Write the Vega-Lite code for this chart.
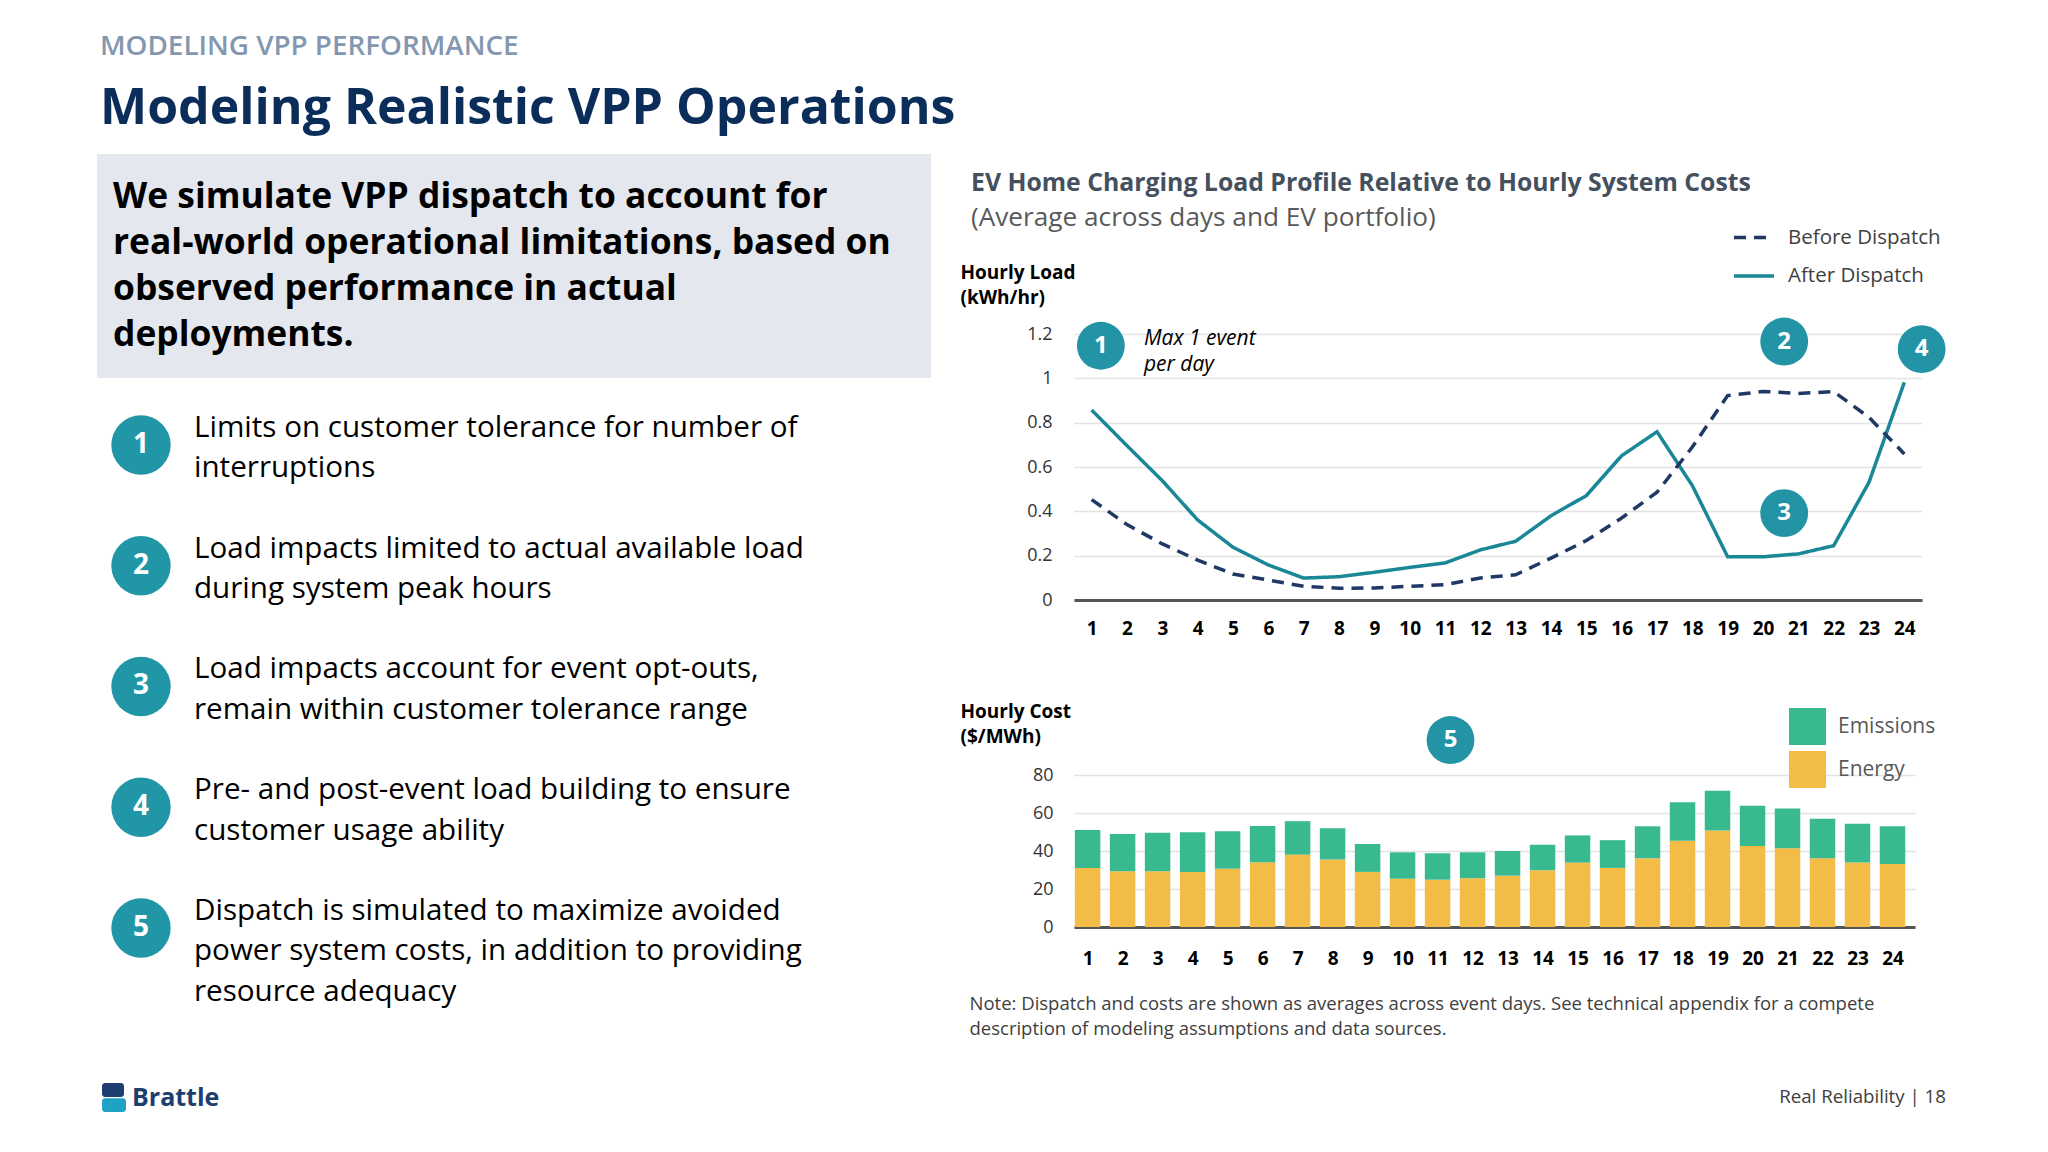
{
  "$schema": "https://vega.github.io/schema/vega-lite/v6.json",
  "background": "white",
  "padding": {"left": 97, "top": 33, "right": 0, "bottom": 0},
  "config": {
    "font": "Open Sans",
    "view": {"stroke": null},
    "legend": {"padding": 0},
    "axis": {"labelOverlap": false}
  },
  "title": {
    "text": "MODELING VPP PERFORMANCE",
    "subtitle": "Modeling Realistic VPP Operations",
    "anchor": "start",
    "frame": "bounds",
    "dx": 3,
    "font": "Open Sans",
    "fontSize": 27.8,
    "fontWeight": 600,
    "color": "#8497B0",
    "subtitleFont": "Open Sans",
    "subtitleFontSize": 50,
    "subtitleFontWeight": "bold",
    "subtitleColor": "#0B2D5A",
    "subtitlePadding": 23,
    "offset": 20
  },
  "resolve": {"scale": {"color": "independent", "strokeDash": "independent"}},
  "datasets": {
    "load": [
      {"hour": 1, "series": "After Dispatch", "load": 0.857},
      {"hour": 2, "series": "After Dispatch", "load": 0.696},
      {"hour": 3, "series": "After Dispatch", "load": 0.538},
      {"hour": 4, "series": "After Dispatch", "load": 0.361},
      {"hour": 5, "series": "After Dispatch", "load": 0.238},
      {"hour": 6, "series": "After Dispatch", "load": 0.158},
      {"hour": 7, "series": "After Dispatch", "load": 0.099},
      {"hour": 8, "series": "After Dispatch", "load": 0.105},
      {"hour": 9, "series": "After Dispatch", "load": 0.125},
      {"hour": 10, "series": "After Dispatch", "load": 0.147},
      {"hour": 11, "series": "After Dispatch", "load": 0.167},
      {"hour": 12, "series": "After Dispatch", "load": 0.226},
      {"hour": 13, "series": "After Dispatch", "load": 0.265},
      {"hour": 14, "series": "After Dispatch", "load": 0.38},
      {"hour": 15, "series": "After Dispatch", "load": 0.471},
      {"hour": 16, "series": "After Dispatch", "load": 0.651},
      {"hour": 17, "series": "After Dispatch", "load": 0.759},
      {"hour": 18, "series": "After Dispatch", "load": 0.516},
      {"hour": 19, "series": "After Dispatch", "load": 0.195},
      {"hour": 20, "series": "After Dispatch", "load": 0.195},
      {"hour": 21, "series": "After Dispatch", "load": 0.208},
      {"hour": 22, "series": "After Dispatch", "load": 0.245},
      {"hour": 23, "series": "After Dispatch", "load": 0.531},
      {"hour": 24, "series": "After Dispatch", "load": 0.982},
      {"hour": 1, "series": "Before Dispatch", "load": 0.453},
      {"hour": 2, "series": "Before Dispatch", "load": 0.34},
      {"hour": 3, "series": "Before Dispatch", "load": 0.253},
      {"hour": 4, "series": "Before Dispatch", "load": 0.18},
      {"hour": 5, "series": "Before Dispatch", "load": 0.117},
      {"hour": 6, "series": "Before Dispatch", "load": 0.09},
      {"hour": 7, "series": "Before Dispatch", "load": 0.062},
      {"hour": 8, "series": "Before Dispatch", "load": 0.053},
      {"hour": 9, "series": "Before Dispatch", "load": 0.054},
      {"hour": 10, "series": "Before Dispatch", "load": 0.062},
      {"hour": 11, "series": "Before Dispatch", "load": 0.069},
      {"hour": 12, "series": "Before Dispatch", "load": 0.099},
      {"hour": 13, "series": "Before Dispatch", "load": 0.114},
      {"hour": 14, "series": "Before Dispatch", "load": 0.189},
      {"hour": 15, "series": "Before Dispatch", "load": 0.268},
      {"hour": 16, "series": "Before Dispatch", "load": 0.37},
      {"hour": 17, "series": "Before Dispatch", "load": 0.486},
      {"hour": 18, "series": "Before Dispatch", "load": 0.69},
      {"hour": 19, "series": "Before Dispatch", "load": 0.922},
      {"hour": 20, "series": "Before Dispatch", "load": 0.941},
      {"hour": 21, "series": "Before Dispatch", "load": 0.932},
      {"hour": 22, "series": "Before Dispatch", "load": 0.94},
      {"hour": 23, "series": "Before Dispatch", "load": 0.824},
      {"hour": 24, "series": "Before Dispatch", "load": 0.659}
    ],
    "cost": [
      {"hour": 1, "component": "Energy", "cost": 31.1}, {"hour": 1, "component": "Emissions", "cost": 20.0},
      {"hour": 2, "component": "Energy", "cost": 29.4}, {"hour": 2, "component": "Emissions", "cost": 19.6},
      {"hour": 3, "component": "Energy", "cost": 29.4}, {"hour": 3, "component": "Emissions", "cost": 20.2},
      {"hour": 4, "component": "Energy", "cost": 29.0}, {"hour": 4, "component": "Emissions", "cost": 20.9},
      {"hour": 5, "component": "Energy", "cost": 30.6}, {"hour": 5, "component": "Emissions", "cost": 19.8},
      {"hour": 6, "component": "Energy", "cost": 34.1}, {"hour": 6, "component": "Emissions", "cost": 19.1},
      {"hour": 7, "component": "Energy", "cost": 38.1}, {"hour": 7, "component": "Emissions", "cost": 17.6},
      {"hour": 8, "component": "Energy", "cost": 35.5}, {"hour": 8, "component": "Emissions", "cost": 16.5},
      {"hour": 9, "component": "Energy", "cost": 29.0}, {"hour": 9, "component": "Emissions", "cost": 14.7},
      {"hour": 10, "component": "Energy", "cost": 25.4}, {"hour": 10, "component": "Emissions", "cost": 13.9},
      {"hour": 11, "component": "Energy", "cost": 24.9}, {"hour": 11, "component": "Emissions", "cost": 13.9},
      {"hour": 12, "component": "Energy", "cost": 25.7}, {"hour": 12, "component": "Emissions", "cost": 13.6},
      {"hour": 13, "component": "Energy", "cost": 27.0}, {"hour": 13, "component": "Emissions", "cost": 13.0},
      {"hour": 14, "component": "Energy", "cost": 29.9}, {"hour": 14, "component": "Emissions", "cost": 13.4},
      {"hour": 15, "component": "Energy", "cost": 33.9}, {"hour": 15, "component": "Emissions", "cost": 14.3},
      {"hour": 16, "component": "Energy", "cost": 31.1}, {"hour": 16, "component": "Emissions", "cost": 14.6},
      {"hour": 17, "component": "Energy", "cost": 36.2}, {"hour": 17, "component": "Emissions", "cost": 16.8},
      {"hour": 18, "component": "Energy", "cost": 45.4}, {"hour": 18, "component": "Emissions", "cost": 20.2},
      {"hour": 19, "component": "Energy", "cost": 50.8}, {"hour": 19, "component": "Emissions", "cost": 20.9},
      {"hour": 20, "component": "Energy", "cost": 42.6}, {"hour": 20, "component": "Emissions", "cost": 21.2},
      {"hour": 21, "component": "Energy", "cost": 41.4}, {"hour": 21, "component": "Emissions", "cost": 21.0},
      {"hour": 22, "component": "Energy", "cost": 36.2}, {"hour": 22, "component": "Emissions", "cost": 20.8},
      {"hour": 23, "component": "Energy", "cost": 33.9}, {"hour": 23, "component": "Emissions", "cost": 20.5},
      {"hour": 24, "component": "Energy", "cost": 33.2}, {"hour": 24, "component": "Emissions", "cost": 19.8}
    ],
    "bullets": [
      {"n": 1, "desc": "Limits on customer tolerance for number of\ninterruptions"},
      {"n": 2, "desc": "Load impacts limited to actual available load\nduring system peak hours"},
      {"n": 3, "desc": "Load impacts account for event opt-outs,\nremain within customer tolerance range"},
      {"n": 4, "desc": "Pre- and post-event load building to ensure\ncustomer usage ability"},
      {"n": 5, "desc": "Dispatch is simulated to maximize avoided\npower system costs, in addition to providing\nresource adequacy"}
    ],
    "loadMarkers": [
      {"n": "1", "hour": 1.26, "load": 1.147},
      {"n": "2", "hour": 20.6, "load": 1.166},
      {"n": "3", "hour": 20.6, "load": 0.392},
      {"n": "4", "hour": 24.49, "load": 1.132}
    ],
    "costMarkers": [
      {"n": "5", "hour": 11.37, "cost": 98.4}
    ]
  },
  "hconcat": [
    {
      "width": 834,
      "height": 785,
      "layer": [
        {
          "data": {"values": [{"lines": "We simulate VPP dispatch to account for\nreal-world operational limitations, based on\nobserved performance in actual\ndeployments."}]},
          "mark": {"type": "rect", "color": "#E4E8EE"},
          "encoding": {
            "x": {"datum": 0, "type": "quantitative", "scale": {"domain": [0, 834], "nice": false, "zero": false}, "axis": null},
            "x2": {"datum": 834},
            "y": {"datum": -1.41, "type": "quantitative", "scale": {"domain": [0.081, 6.582], "nice": false, "zero": false, "reverse": true}, "axis": null},
            "y2": {"datum": 0.445}
          }
        },
        {
          "data": {"values": [{"lines": "We simulate VPP dispatch to account for\nreal-world operational limitations, based on\nobserved performance in actual\ndeployments."}]},
          "mark": {"type": "text", "font": "Open Sans", "fontSize": 35.4, "fontWeight": "bold", "color": "#000000", "align": "left", "baseline": "alphabetic", "lineBreak": "\n", "lineHeight": 46},
          "encoding": {
            "x": {"datum": 16, "type": "quantitative", "axis": null},
            "y": {"datum": -0.963, "type": "quantitative", "axis": null},
            "text": {"field": "lines", "type": "nominal"}
          }
        },
        {
          "data": {"name": "bullets"},
          "mark": {"type": "point", "filled": true, "opacity": 1, "size": 3526, "color": "#2196A6"},
          "encoding": {
            "x": {"datum": 44, "type": "quantitative", "axis": null},
            "y": {"field": "n", "type": "quantitative", "axis": null}
          }
        },
        {
          "data": {"name": "bullets"},
          "mark": {"type": "text", "font": "Open Sans", "fontSize": 28, "fontWeight": "bold", "color": "#FFFFFF", "align": "center", "baseline": "middle"},
          "encoding": {
            "x": {"datum": 44, "type": "quantitative", "axis": null},
            "y": {"field": "n", "type": "quantitative", "axis": null},
            "text": {"field": "n", "type": "nominal"}
          }
        },
        {
          "data": {"name": "bullets"},
          "mark": {"type": "text", "font": "Open Sans", "fontSize": 29.6, "color": "#000000", "align": "left", "baseline": "alphabetic", "lineBreak": "\n", "lineHeight": 40.5, "dy": -8},
          "encoding": {
            "x": {"datum": 97, "type": "quantitative", "axis": null},
            "y": {"field": "n", "type": "quantitative", "axis": null},
            "text": {"field": "desc", "type": "nominal"}
          }
        },
        {
          "data": {"values": [{"part": "top"}]},
          "mark": {"type": "rect", "color": "#1F3F73", "cornerRadius": 3},
          "encoding": {
            "x": {"datum": 5, "type": "quantitative", "axis": null},
            "x2": {"datum": 27},
            "y": {"datum": 6.284, "type": "quantitative", "axis": null},
            "y2": {"datum": 6.4}
          }
        },
        {
          "data": {"values": [{"part": "bottom"}]},
          "mark": {"type": "rect", "color": "#1FA3C4", "cornerRadius": 3},
          "encoding": {
            "x": {"datum": 5, "type": "quantitative", "axis": null},
            "x2": {"datum": 29},
            "y": {"datum": 6.41, "type": "quantitative", "axis": null},
            "y2": {"datum": 6.524}
          }
        },
        {
          "data": {"values": [{"logo": "Brattle"}]},
          "mark": {"type": "text", "font": "Open Sans", "fontSize": 25, "fontWeight": "bold", "color": "#1D3F6E", "align": "left", "baseline": "middle"},
          "encoding": {
            "x": {"datum": 35, "type": "quantitative", "axis": null},
            "y": {"datum": 6.408, "type": "quantitative", "axis": null},
            "text": {"field": "logo", "type": "nominal"}
          }
        }
      ]
    },
    {
      "spacing": 63,
      "resolve": {"scale": {"color": "independent", "strokeDash": "independent"}},
      "vconcat": [
        {
          "width": 848,
          "height": 266,
          "title": {
            "text": ["", "EV Home Charging Load Profile Relative to Hourly System Costs"],
            "subtitle": "(Average across days and EV portfolio)",
            "anchor": "start",
            "frame": "bounds",
            "dx": 11,
            "font": "Open Sans",
            "fontSize": 24.8,
            "fontWeight": "bold",
            "color": "#44505E",
            "lineHeight": 15.7,
            "subtitleFont": "Open Sans",
            "subtitleFontSize": 26.2,
            "subtitleColor": "#595959",
            "subtitlePadding": 9.6,
            "offset": -16
          },
          "layer": [
            {
              "data": {"name": "load"},
              "mark": {"type": "line", "strokeWidth": 3.5},
              "encoding": {
                "x": {
                  "field": "hour", "type": "quantitative",
                  "scale": {"domain": [0.5, 24.5], "nice": false, "zero": false},
                  "axis": {
                    "values": [1,2,3,4,5,6,7,8,9,10,11,12,13,14,15,16,17,18,19,20,21,22,23,24],
                    "tickCount": 40,
                    "format": "d", "title": null, "grid": false, "ticks": false,
                    "domainColor": "#555555", "domainWidth": 3,
                    "labelFont": "Open Sans", "labelFontSize": 19, "labelFontWeight": "bold", "labelColor": "#000000",
                    "labelPadding": 19.5, "labelOverlap": false, "labelFlush": false
                  }
                },
                "y": {
                  "field": "load", "type": "quantitative",
                  "scale": {"domain": [0, 1.2], "nice": false},
                  "axis": {
                    "values": [0, 0.2, 0.4, 0.6, 0.8, 1, 1.2],
                    "tickCount": 20,
                    "format": "~g",
                    "title": ["Hourly Load", "(kWh/hr)"],
                    "titleAngle": 0, "titleAlign": "left", "titleBaseline": "alphabetic",
                    "titleX": -114, "titleY": -56,
                    "titleFont": "Open Sans", "titleFontSize": 19, "titleFontWeight": "bold", "titleColor": "#000000", "titleLineHeight": 25,
                    "domain": false, "ticks": false, "labelOverlap": false,
                    "gridColor": "#E3E3E3", "gridWidth": 1.5,
                    "labelFont": "Open Sans", "labelFontSize": 18, "labelColor": "#333333", "labelPadding": 22
                  }
                },
                "color": {
                  "field": "series", "type": "nominal",
                  "scale": {"domain": ["Before Dispatch", "After Dispatch"], "range": ["#1F3864", "#1A8797"]},
                  "legend": {"title": null, "orient": "none", "legendX": 658, "legendY": -118.5, "symbolType": "stroke", "symbolSize": 1600, "symbolStrokeWidth": 3.5, "labelFont": "Open Sans", "labelFontSize": 20.5, "labelColor": "#404040", "rowPadding": 5.5, "labelOffset": 12, "padding": 0}
                },
                "strokeDash": {
                  "field": "series", "type": "nominal",
                  "scale": {"domain": ["Before Dispatch", "After Dispatch"], "range": [[12, 8], [1, 0]]},
                  "legend": {"title": null, "orient": "none", "legendX": 658, "legendY": -118.5, "symbolType": "stroke", "symbolSize": 1600, "symbolStrokeWidth": 3.5, "labelFont": "Open Sans", "labelFontSize": 20.5, "labelColor": "#404040", "rowPadding": 5.5, "labelOffset": 12, "padding": 0}
                }
              }
            },
            {
              "data": {"name": "loadMarkers"},
              "mark": {"type": "point", "filled": true, "opacity": 1, "size": 2290, "color": "#2294A6"},
              "encoding": {
                "x": {"field": "hour", "type": "quantitative"},
                "y": {"field": "load", "type": "quantitative"}
              }
            },
            {
              "data": {"name": "loadMarkers"},
              "mark": {"type": "text", "font": "Open Sans", "fontSize": 24, "fontWeight": "bold", "color": "#FFFFFF", "align": "center", "baseline": "middle"},
              "encoding": {
                "x": {"field": "hour", "type": "quantitative"},
                "y": {"field": "load", "type": "quantitative"},
                "text": {"field": "n", "type": "nominal"}
              }
            },
            {
              "data": {"values": [{"note": "Max 1 event\nper day"}]},
              "mark": {"type": "text", "font": "Open Sans", "fontSize": 21, "fontStyle": "italic", "color": "#000000", "align": "left", "baseline": "alphabetic", "lineBreak": "\n", "lineHeight": 26},
              "encoding": {
                "x": {"datum": 2.48, "type": "quantitative"},
                "y": {"datum": 1.152, "type": "quantitative"},
                "text": {"field": "note", "type": "nominal"}
              }
            }
          ]
        },
        {
          "width": 841,
          "height": 152,
          "title": {
            "text": "Real Reliability | 18",
            "orient": "bottom",
            "anchor": "end",
            "frame": "group",
            "dx": 31,
            "offset": 50,
            "font": "Open Sans",
            "fontSize": 18.7,
            "fontWeight": "normal",
            "color": "#404040"
          },
          "layer": [
            {
              "data": {"name": "cost"},
              "mark": {"type": "bar", "width": 25.5},
              "encoding": {
                "x": {
                  "field": "hour", "type": "quantitative",
                  "scale": {"domain": [0.754, 24.5], "nice": false, "zero": false},
                  "axis": {
                    "values": [1,2,3,4,5,6,7,8,9,10,11,12,13,14,15,16,17,18,19,20,21,22,23,24],
                    "tickCount": 40,
                    "format": "d", "grid": false, "ticks": false,
                    "domainColor": "#555555", "domainWidth": 3,
                    "labelFont": "Open Sans", "labelFontSize": 19, "labelFontWeight": "bold", "labelColor": "#000000",
                    "labelPadding": 22, "labelOverlap": false, "labelFlush": false, "labelBound": false,
                    "title": ["Note: Dispatch and costs are shown as averages across event days. See technical appendix for a compete", "description of modeling assumptions and data sources."],
                    "titleX": -105, "titleY": 82, "titleAlign": "left", "titleAnchor": "start", "titleAngle": 0, "titleBaseline": "alphabetic",
                    "titleFont": "Open Sans", "titleFontSize": 18.5, "titleFontWeight": "normal", "titleColor": "#404040", "titleLineHeight": 25
                  }
                },
                "y": {
                  "field": "cost", "type": "quantitative", "stack": "zero",
                  "scale": {"domain": [0, 80], "nice": false},
                  "axis": {
                    "values": [0, 20, 40, 60, 80],
                    "tickCount": 20,
                    "title": ["Hourly Cost", "($/MWh)"],
                    "titleAngle": 0, "titleAlign": "left", "titleBaseline": "alphabetic",
                    "titleX": -114, "titleY": -58,
                    "titleFont": "Open Sans", "titleFontSize": 19, "titleFontWeight": "bold", "titleColor": "#000000", "titleLineHeight": 25,
                    "domain": false, "ticks": false, "labelOverlap": false,
                    "gridColor": "#E3E3E3", "gridWidth": 1.5,
                    "labelFont": "Open Sans", "labelFontSize": 18, "labelColor": "#333333", "labelPadding": 21
                  }
                },
                "color": {
                  "field": "component", "type": "nominal",
                  "scale": {"domain": ["Emissions", "Energy"], "range": ["#38B98F", "#F3BC47"]},
                  "legend": {"title": null, "orient": "none", "legendX": 715, "legendY": -67, "symbolType": "square", "symbolSize": 1369, "symbolStrokeWidth": 0, "labelFont": "Open Sans", "labelFontSize": 21, "labelColor": "#595959", "rowPadding": 6, "labelOffset": 12, "padding": 0}
                },
                "order": {"field": "component", "sort": "descending"}
              }
            },
            {
              "data": {"name": "costMarkers"},
              "mark": {"type": "point", "filled": true, "opacity": 1, "size": 2290, "color": "#2294A6"},
              "encoding": {
                "x": {"field": "hour", "type": "quantitative"},
                "y": {"field": "cost", "type": "quantitative"}
              }
            },
            {
              "data": {"name": "costMarkers"},
              "mark": {"type": "text", "font": "Open Sans", "fontSize": 24, "fontWeight": "bold", "color": "#FFFFFF", "align": "center", "baseline": "middle"},
              "encoding": {
                "x": {"field": "hour", "type": "quantitative"},
                "y": {"field": "cost", "type": "quantitative"},
                "text": {"field": "n", "type": "nominal"}
              }
            }
          ]
        }
      ]
    }
  ],
  "spacing": 29
}
